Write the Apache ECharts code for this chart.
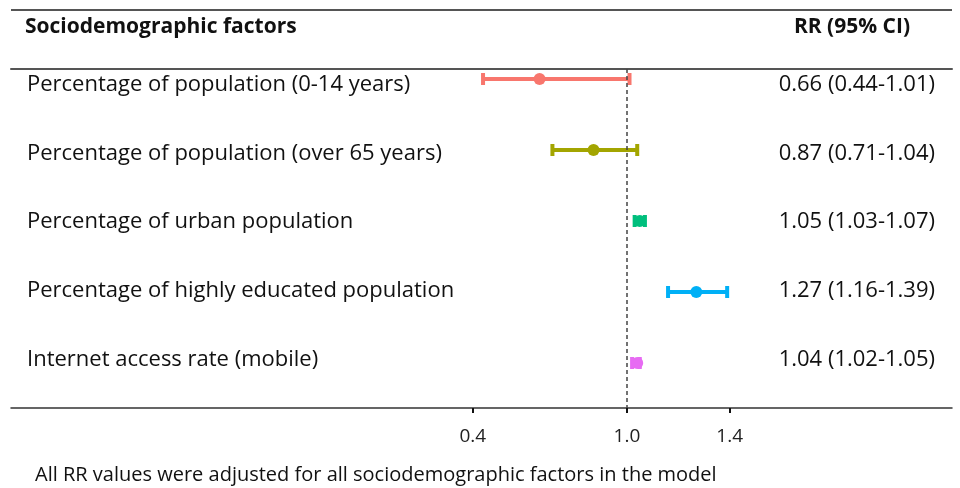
<!DOCTYPE html>
<html>
<head>
<meta charset="utf-8">
<script src="https://cdn.jsdelivr.net/npm/echarts@6/dist/echarts.min.js"></script>
<style>
  html, body { margin: 0; padding: 0; background: #fff; }
  #chart { width: 960px; height: 488px; }
</style>
</head>
<body>
<div id="chart"></div>
<script>
// 数据
const factors = [
  "Percentage of population (0-14 years)",
  "Percentage of population (over 65 years)",
  "Percentage of urban population",
  "Percentage of highly educated population",
  "Internet access rate (mobile)"
];
const rr = [0.66, 0.87, 1.05, 1.27, 1.04];
const ciLow = [0.44, 0.71, 1.03, 1.16, 1.02];
const ciHigh = [1.01, 1.04, 1.07, 1.39, 1.05];
const colors = ["#F8766D", "#A3A500", "#00BF7D", "#00B0F6", "#E76BF3"];
const xTicks = [0.4, 1.0, 1.4];
const rowIdx = factors.map((_, i) => i);

const FONT = "Open Sans";
const rrText = rr.map((v, i) =>
  v.toFixed(2) + " (" + ciLow[i].toFixed(2) + "-" + ciHigh[i].toFixed(2) + ")"
);

const chart = echarts.init(document.getElementById("chart"));

// 误差线：横线 + 两端短竖线 + 中心圆点
const renderBar = (params, api) => {
  const i = api.value(0);
  const lo = api.coord([api.value(1), i]);
  const hi = api.coord([api.value(2), i]);
  const mid = api.coord([api.value(3), i]);
  const c = colors[i];
  return {
    type: "group",
    children: [
      { type: "line", shape: { x1: lo[0], y1: lo[1], x2: hi[0], y2: hi[1] }, style: { stroke: c, lineWidth: 4 } },
      { type: "rect", shape: { x: lo[0] - 2, y: lo[1] - 6, width: 4, height: 12 }, style: { fill: c } },
      { type: "rect", shape: { x: hi[0] - 2, y: hi[1] - 6, width: 4, height: 12 }, style: { fill: c } },
      { type: "circle", shape: { cx: mid[0], cy: mid[1], r: 6 }, style: { fill: c } }
    ]
  };
};

// 文字行用的隐藏 y 轴（行距略小于图形行距）
const textAxis = (pos, fmt, align, margin) => ({
  type: "value", inverse: true, min: -0.233, max: 4.709, position: pos,
  splitLine: { show: false }, axisLine: { show: false, onZero: false }, axisTick: { show: false },
  axisLabel: { customValues: rowIdx, inside: true, align: align, margin: margin,
    formatter: fmt, fontFamily: FONT, fontSize: 22, color: "#111" }
});

chart.setOption({
  animation: false,
  backgroundColor: "#fff",
  textStyle: { fontFamily: FONT },
  title: [
    { text: "Sociodemographic factors", left: 20, top: 12,
      textStyle: { fontFamily: FONT, fontSize: 21, fontWeight: "bold", color: "#111" } },
    { text: "RR (95% CI)", left: 847, top: 12, textAlign: "center",
      textStyle: { fontFamily: FONT, fontSize: 21, fontWeight: "bold", color: "#111" } },
    { text: "All RR values were adjusted for all sociodemographic factors in the model", left: 30, top: 460,
      textStyle: { fontFamily: FONT, fontSize: 20, fontWeight: "normal", color: "#111" } }
  ],
  graphic: [
    { type: "line", shape: { x1: 11, y1: 10, x2: 952, y2: 10 }, style: { stroke: "#555", lineWidth: 2 } }
  ],
  grid: { left: 11, right: 8, top: 69, bottom: 80 },
  xAxis: [
    {
      type: "value", position: "bottom", min: -1.397, max: 2.265,
      splitLine: { show: false },
      axisLine: { onZero: false, lineStyle: { color: "#333", width: 1.5 } },
      axisTick: { customValues: xTicks, length: 5, lineStyle: { color: "#111", width: 2 } },
      axisLabel: { customValues: xTicks, formatter: v => v.toFixed(1), margin: 19,
        fontFamily: FONT, fontSize: 19, color: "#222" }
    },
    {
      type: "value", position: "top", min: -1.397, max: 2.265,
      splitLine: { show: false },
      axisLine: { show: true, onZero: false, lineStyle: { color: "#555", width: 2 } },
      axisTick: { show: false }, axisLabel: { show: false }
    }
  ],
  yAxis: [
    {
      type: "value", inverse: true, min: -0.141, max: 4.634,
      show: false
    },
    textAxis("left", v => factors[v] || "", "left", 16),
    textAxis("right", v => rrText[v] || "", "right", 17)
  ],
  series: [
    {
      type: "custom",
      renderItem: renderBar,
      xAxisIndex: 0,
      yAxisIndex: 0,
      encode: { x: [1, 2, 3], y: 0 },
      data: rowIdx.map(i => [i, ciLow[i], ciHigh[i], rr[i]]),
      markLine: {
        silent: true, symbol: "none", label: { show: false },
        lineStyle: { color: "#444", type: [4, 3], width: 1.5 },
        data: [{ xAxis: 1.0 }]
      }
    }
  ]
});
</script>
</body>
</html>
